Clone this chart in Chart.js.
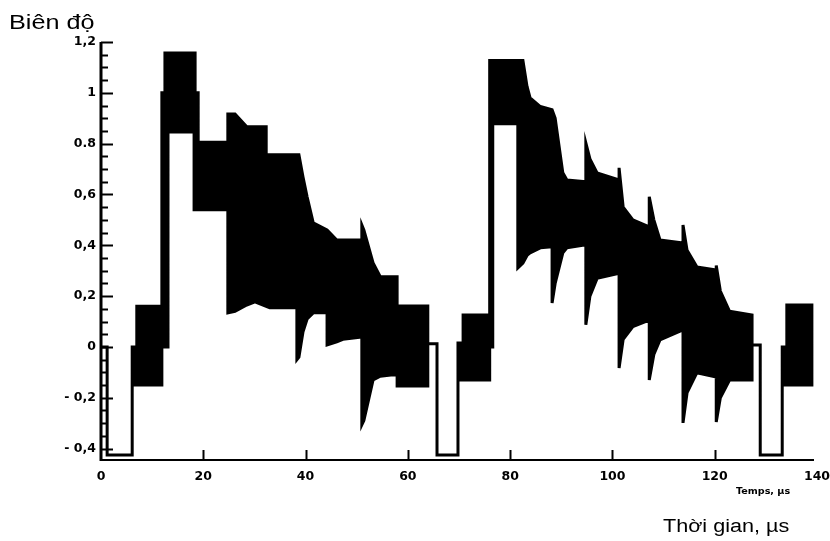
<!DOCTYPE html>
<html>
<head>
<meta charset="utf-8">
<script src="https://cdn.jsdelivr.net/npm/chart.js@4.4.0/dist/chart.umd.min.js"></script>
<style>
    html, body { margin: 0; padding: 0; background: #ffffff; }
</style>
</head>
<body>
<canvas id="myChart" width="830" height="541"></canvas>
<script>
/* Envelope of the oscillating pulse train. */

// time axis (µs); repeated values make the vertical jumps
const timeUs = [
    0.0, 1.2, 1.2, 6.1, 6.1, 7.0, 7.0, 11.9, 11.9, 12.5,
    12.5, 13.1, 13.1, 18.2, 18.2, 18.4, 18.4, 19.0, 19.0, 24.8,
    24.8, 26.2, 28.5, 30.1, 32.3, 32.3, 33.0, 38.3, 38.3, 38.7,
    39.5, 40.3, 41.5, 44.2, 44.2, 46.1, 47.3, 51.0, 51.0, 51.4,
    53.2, 54.6, 57.1, 57.9, 57.9, 63.9, 63.9, 65.7, 65.7, 69.8,
    69.8, 70.8, 70.8, 76.0, 76.0, 76.6, 76.6, 81.5, 81.5, 82.5,
    83.3, 83.9, 85.9, 88.2, 88.2, 88.8, 90.3, 91.1, 94.8, 94.8,
    95.6, 97.0, 101.3, 101.3, 102.1, 104.0, 107.2, 107.2, 108.1, 109.3,
    113.8, 113.8, 114.6, 116.5, 120.3, 120.3, 121.1, 122.9, 127.3, 127.3,
    128.9, 128.9, 133.2, 133.2, 134.1, 134.1, 139.0
];

// upper edge of the signal (amplitude)
const upperEnv = [
    0.0, 0.0, -0.425, -0.425, 0.0, 0.0, 0.16, 0.16, 1.0, 1.0,
    1.157, 1.157, 1.157, 1.157, 1.157, 1.157, 1.0, 1.0, 0.805, 0.805,
    0.917, 0.917, 0.866, 0.866, 0.866, 0.756, 0.756, 0.756, 0.756, 0.756,
    0.669, 0.591, 0.488, 0.46, 0.46, 0.421, 0.421, 0.421, 0.48, 0.46,
    0.331, 0.276, 0.276, 0.276, 0.161, 0.161, 0.012, 0.012, -0.425, -0.425,
    0.015, 0.015, 0.126, 0.126, 1.127, 1.127, 1.127, 1.127, 1.127, 1.127,
    1.025, 0.98, 0.946, 0.933, 0.933, 0.90, 0.685, 0.657, 0.650, 0.803,
    0.74, 0.685, 0.657, 0.705, 0.55, 0.50, 0.472, 0.591, 0.50, 0.421,
    0.409, 0.48, 0.38, 0.315, 0.303, 0.32, 0.22, 0.14, 0.126, 0.008,
    0.008, -0.425, -0.425, 0.0, 0.0, 0.165, 0.165
];

// lower edge of the signal (amplitude)
const lowerEnv = [
    0.0, 0.0, -0.425, -0.425, -0.15, -0.15, -0.15, -0.15, 0.0, 0.0,
    0.0, 0.0, 0.846, 0.846, 0.54, 0.54, 0.54, 0.54, 0.54, 0.54,
    0.134, 0.14, 0.165, 0.177, 0.16, 0.16, 0.154, 0.154, -0.05, -0.04,
    0.06, 0.11, 0.134, 0.134, 0.008, 0.02, 0.03, 0.039, -0.307, -0.29,
    -0.13, -0.115, -0.11, -0.11, -0.154, -0.154, 0.012, 0.012, -0.425, -0.425,
    -0.13, -0.13, -0.13, -0.13, 0.0, 0.0, 0.878, 0.878, 0.311, 0.33,
    0.36, 0.37, 0.39, 0.394, 0.173, 0.25, 0.37, 0.39, 0.402, 0.087,
    0.2, 0.27, 0.29, -0.083, 0.03, 0.08, 0.106, -0.13, -0.03, 0.028,
    0.067, -0.299, -0.18, -0.102, -0.118, -0.295, -0.2, -0.13, -0.13, 0.008,
    0.008, -0.425, -0.425, -0.15, -0.15, -0.15, -0.15
];

const xTickValues = [0, 20, 40, 60, 80, 100, 120, 140];
const xTickLabels = ['0', '20', '40', '60', '80', '100', '120', '140'];
const yTickValues = [-0.4, -0.2, 0, 0.2, 0.4, 0.6, 0.8, 1, 1.2];
const yTickLabels = ['- 0,4', '- 0,2', '0', '0,2', '0,4', '0,6', '0.8', '1', '1,2'];

const yAxisTitle = 'Biên độ';
const xAxisTitle = 'Thời gian, µs';
const xAxisSubTitle = 'Temps, µs';

// closed outline: along the upper edge, back along the lower edge
const upperPts = timeUs.map((t, i) => ({x: t, y: upperEnv[i]}));
const lowerPts = timeUs.map((t, i) => ({x: t, y: lowerEnv[i]})).reverse();
const outline = upperPts.concat(lowerPts);

const ink = '#000000';

// the scan is a bit stretched sideways, so text is widened too
function wideText(ctx, text, x, y, stretch) {
    ctx.save();
    ctx.translate(x, y);
    ctx.scale(stretch, 1);
    ctx.fillText(text, 0, 0);
    ctx.restore();
}

// hand-drawn looking axes: thick spines, ticks pointing inwards
const axisDecor = {
    id: 'axisDecor',
    afterDraw(chart) {
        const {ctx, chartArea} = chart;
        const xs = chart.scales.x;
        const ys = chart.scales.y;
        ctx.save();
        ctx.strokeStyle = ink;
        ctx.fillStyle = ink;

        // y spine
        ctx.lineWidth = 3;
        ctx.beginPath();
        ctx.moveTo(chartArea.left, chartArea.top);
        ctx.lineTo(chartArea.left, chartArea.bottom + 1);
        ctx.stroke();

        // x spine
        ctx.lineWidth = 2;
        ctx.beginPath();
        ctx.moveTo(chartArea.left, chartArea.bottom);
        ctx.lineTo(chartArea.right - 3, chartArea.bottom);
        ctx.stroke();

        // y ticks, minor every 0.05, major every 0.2
        ctx.lineWidth = 2;
        for (let k = -8; k <= 24; k++) {
            const py = Math.round(ys.getPixelForValue(k * 0.05)) + 0.5;
            const len = (k % 4 === 0) ? 12 : 7;
            ctx.beginPath();
            ctx.moveTo(chartArea.left, py);
            ctx.lineTo(chartArea.left + len, py);
            ctx.stroke();
        }

        // x ticks
        xTickValues.forEach(v => {
            if (v === 0 || v === 140) return;
            const px = Math.round(xs.getPixelForValue(v)) + 0.5;
            ctx.beginPath();
            ctx.moveTo(px, chartArea.bottom);
            ctx.lineTo(px, chartArea.bottom - 10);
            ctx.stroke();
        });

        // titles
        ctx.textBaseline = 'alphabetic';
        ctx.textAlign = 'left';
        ctx.font = '21px "Liberation Sans", Arial, sans-serif';
        wideText(ctx, yAxisTitle, 9, 29, 1.2);
        ctx.font = '18px "Liberation Sans", Arial, sans-serif';
        wideText(ctx, xAxisTitle, 663, 532, 1.2);

        ctx.font = 'bold 8px "DejaVu Sans", sans-serif';
        wideText(ctx, xAxisSubTitle, 736, 494, 1.2);
        ctx.restore();
    }
};

const myChart = new Chart(document.getElementById('myChart'), {
    type: 'line',
    data: {
        datasets: [
            {
                label: 'Biên độ',
                data: outline,
                borderColor: ink,
                backgroundColor: ink,
                borderWidth: 3,
                borderJoinStyle: 'miter',
                pointRadius: 0,
                tension: 0,
                fill: 'shape'
            }
        ]
    },
    options: {
        responsive: false,
        animation: false,
        layout: {
            padding: {left: 0, right: 13, top: 42, bottom: 0}
        },
        plugins: {
            legend: {display: false},
            tooltip: {enabled: false},
            title: {display: false}
        },
        scales: {
            x: {
                type: 'linear',
                min: 0,
                max: 140,
                grid: {display: false, drawTicks: false},
                border: {display: false},
                afterBuildTicks: (scale) => {
                    scale.ticks = xTickValues.map(v => ({value: v}));
                },
                afterFit: (scale) => {
                    scale.height = 81;
                    scale.paddingLeft = 0;
                    scale.paddingRight = 0;
                },
                ticks: {
                    autoSkip: false,
                    maxRotation: 0,
                    padding: 9,
                    color: ink,
                    font: {family: 'DejaVu Sans', size: 12.5, weight: 'bold'},
                    callback: (value) => xTickLabels[xTickValues.indexOf(value)]
                }
            },
            y: {
                type: 'linear',
                min: -0.445,
                max: 1.2,
                grid: {display: false, drawTicks: false},
                border: {display: false},
                afterBuildTicks: (scale) => {
                    scale.ticks = yTickValues.map(v => ({value: v}));
                },
                afterFit: (scale) => {
                    scale.width = 101;
                    scale.paddingTop = 0;
                    scale.paddingBottom = 0;
                },
                ticks: {
                    autoSkip: false,
                    padding: 5,
                    color: ink,
                    font: {family: 'DejaVu Sans', size: 12.5, weight: 'bold'},
                    callback: (value) => yTickLabels[yTickValues.indexOf(value)]
                }
            }
        }
    },
    plugins: [axisDecor]
});
</script>
</body>
</html>
